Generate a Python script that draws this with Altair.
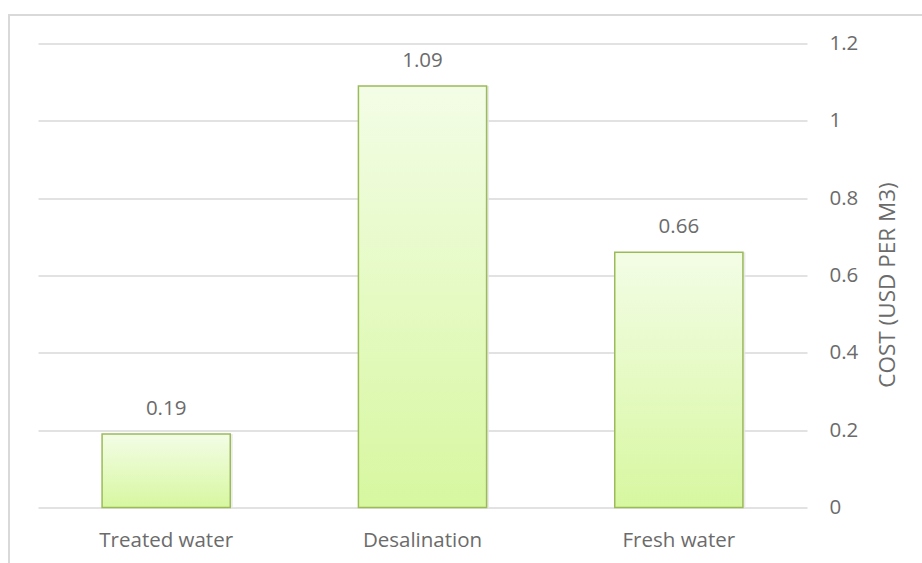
import altair as alt
import pandas as pd

# Water cost per cubic metre by source
categories = ["Treated water", "Desalination", "Fresh water"]
costs = [0.19, 1.09, 0.66]
y_ticks = [0, 0.2, 0.4, 0.6, 0.8, 1.0, 1.2]

df = pd.DataFrame({"source": categories, "cost": costs})

FONT = "Open Sans"
TEXT = "#6b6b6b"
GRID = "#d9d9d9"

base = alt.Chart(df).encode(
    x=alt.X(
        "source:N",
        sort=categories,
        scale=alt.Scale(paddingInner=0.5, paddingOuter=0.25),
        axis=alt.Axis(
            title=None, labelAngle=0, domain=False, ticks=False,
            labelFont=FONT, labelFontSize=20.5, labelColor=TEXT, labelPadding=23,
        ),
    ),
    y=alt.Y(
        "cost:Q",
        scale=alt.Scale(domain=[0, 1.2]),
        axis=alt.Axis(
            orient="right", values=y_ticks, format=".1~f", title="COST (USD PER M3)",
            domain=False, ticks=False, grid=True, gridColor=GRID, gridWidth=1.4,
            labelFont=FONT, labelFontSize=20.5, labelColor=TEXT, labelPadding=22,
            titleFont=FONT, titleFontSize=22.5, titleColor=TEXT, titleFontWeight="normal",
            titleAngle=270, titleX=80, titleY=241,
            titleAlign="center", titleBaseline="middle",
        ),
    ),
)

bar_fill = alt.Gradient(
    gradient="linear",
    stops=[
        alt.GradientStop(color="#f3fde6", offset=0),
        alt.GradientStop(color="#d7f7a0", offset=1),
    ],
    x1=0, x2=0, y1=0, y2=1,
)

shadow = base.mark_bar(color="#e6e6e6", xOffset=2.5, opacity=0.8)
bars = base.mark_bar(fill=bar_fill, stroke="#9bbb59", strokeWidth=1.5)
labels = base.mark_text(
    dy=-25, font=FONT, fontSize=20.5, color=TEXT, baseline="middle"
).encode(text=alt.Text("cost:Q", format=".2f"))

# light frame around the whole chart
frame_left = alt.Chart(df).mark_rule(color=GRID, strokeWidth=2).encode(
    x=alt.value(-29), y=alt.value(-28.5), y2=alt.value(530)
)
frame_top = alt.Chart(df).mark_rule(color=GRID, strokeWidth=2).encode(
    x=alt.value(-30), x2=alt.value(900), y=alt.value(-28.5)
)

chart = (
    alt.layer(frame_left, frame_top, shadow, bars, labels)
    .properties(
        width=769,
        height=464,
        autosize=alt.AutoSizeParams(type="none"),
        padding={"left": 38, "top": 43.5, "right": 115, "bottom": 55.5},
        background="white",
    )
    .configure_view(stroke=None)
)

chart.save("out.html", embed_options={"renderer": "svg", "actions": False})
